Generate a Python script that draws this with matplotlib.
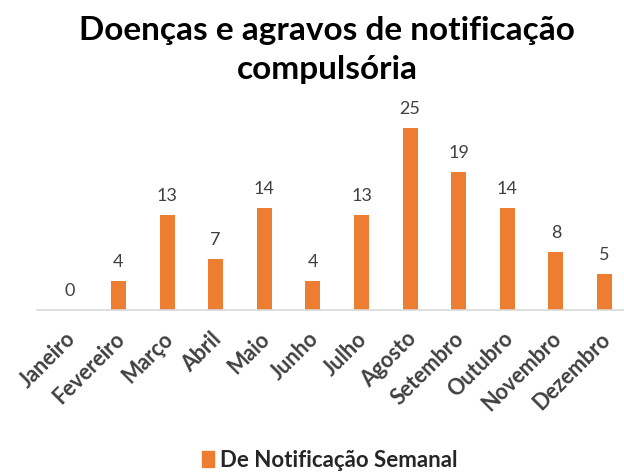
import matplotlib.pyplot as plt
import matplotlib.transforms as mtransforms
from matplotlib.patches import Patch

months = ["Janeiro", "Fevereiro", "Março", "Abril", "Maio", "Junho",
          "Julho", "Agosto", "Setembro", "Outubro", "Novembro", "Dezembro"]
cases = [0, 4, 13, 7, 14, 4, 13, 25, 19, 14, 8, 5]
series_name = "De Notificação Semanal"
title = "Doenças e agravos de notificação\ncompulsória"

bar_color = "#ED7D31"
plt.rcParams['font.family'] = ['Lato', 'DejaVu Sans']

fig = plt.figure(figsize=(6.24, 4.72), dpi=100)
ax = fig.add_axes([0.059, 0.343, 0.941, 0.445])

x = range(len(months))
bars = ax.bar(x, cases, width=0.31, color=bar_color)
for xi, v in zip(x, cases):
    ax.text(xi, v + 1.5, str(v), ha='center', va='bottom', fontsize=13, color='#404040')

ax.set_xlim(-0.68, 11.4)
ax.set_ylim(0, 28.8)
ax.set_yticks([])
ax.set_xticks(list(x))
ax.set_xticklabels(months, rotation=45, ha='right', rotation_mode='anchor',
                   fontsize=15.5, fontweight='bold', color='#404040')
ax.tick_params(axis='x', length=0, pad=13)
# nudge labels a little to the left so their ends sit under the ticks
shift = mtransforms.ScaledTranslation(-5 / 100, 0, fig.dpi_scale_trans)
for lbl in ax.get_xticklabels():
    lbl.set_transform(lbl.get_transform() + shift)
for side in ['top', 'right', 'left']:
    ax.spines[side].set_visible(False)
ax.spines['bottom'].set_color('#D9D9D9')
ax.spines['bottom'].set_linewidth(1.2)

fig.text(0.524, 0.894, title, ha='center', va='center', fontsize=24,
         fontweight='bold', color='black', linespacing=1.42)

fig.legend(handles=[Patch(color=bar_color, label=series_name)], loc='center',
           bbox_to_anchor=(0.528, 0.025), frameon=False, handlelength=0.55,
           handleheight=0.75, handletextpad=0.25,
           prop={'size': 16, 'weight': 'bold'}, labelcolor='#262626')

fig.savefig("out.png", dpi=100)
